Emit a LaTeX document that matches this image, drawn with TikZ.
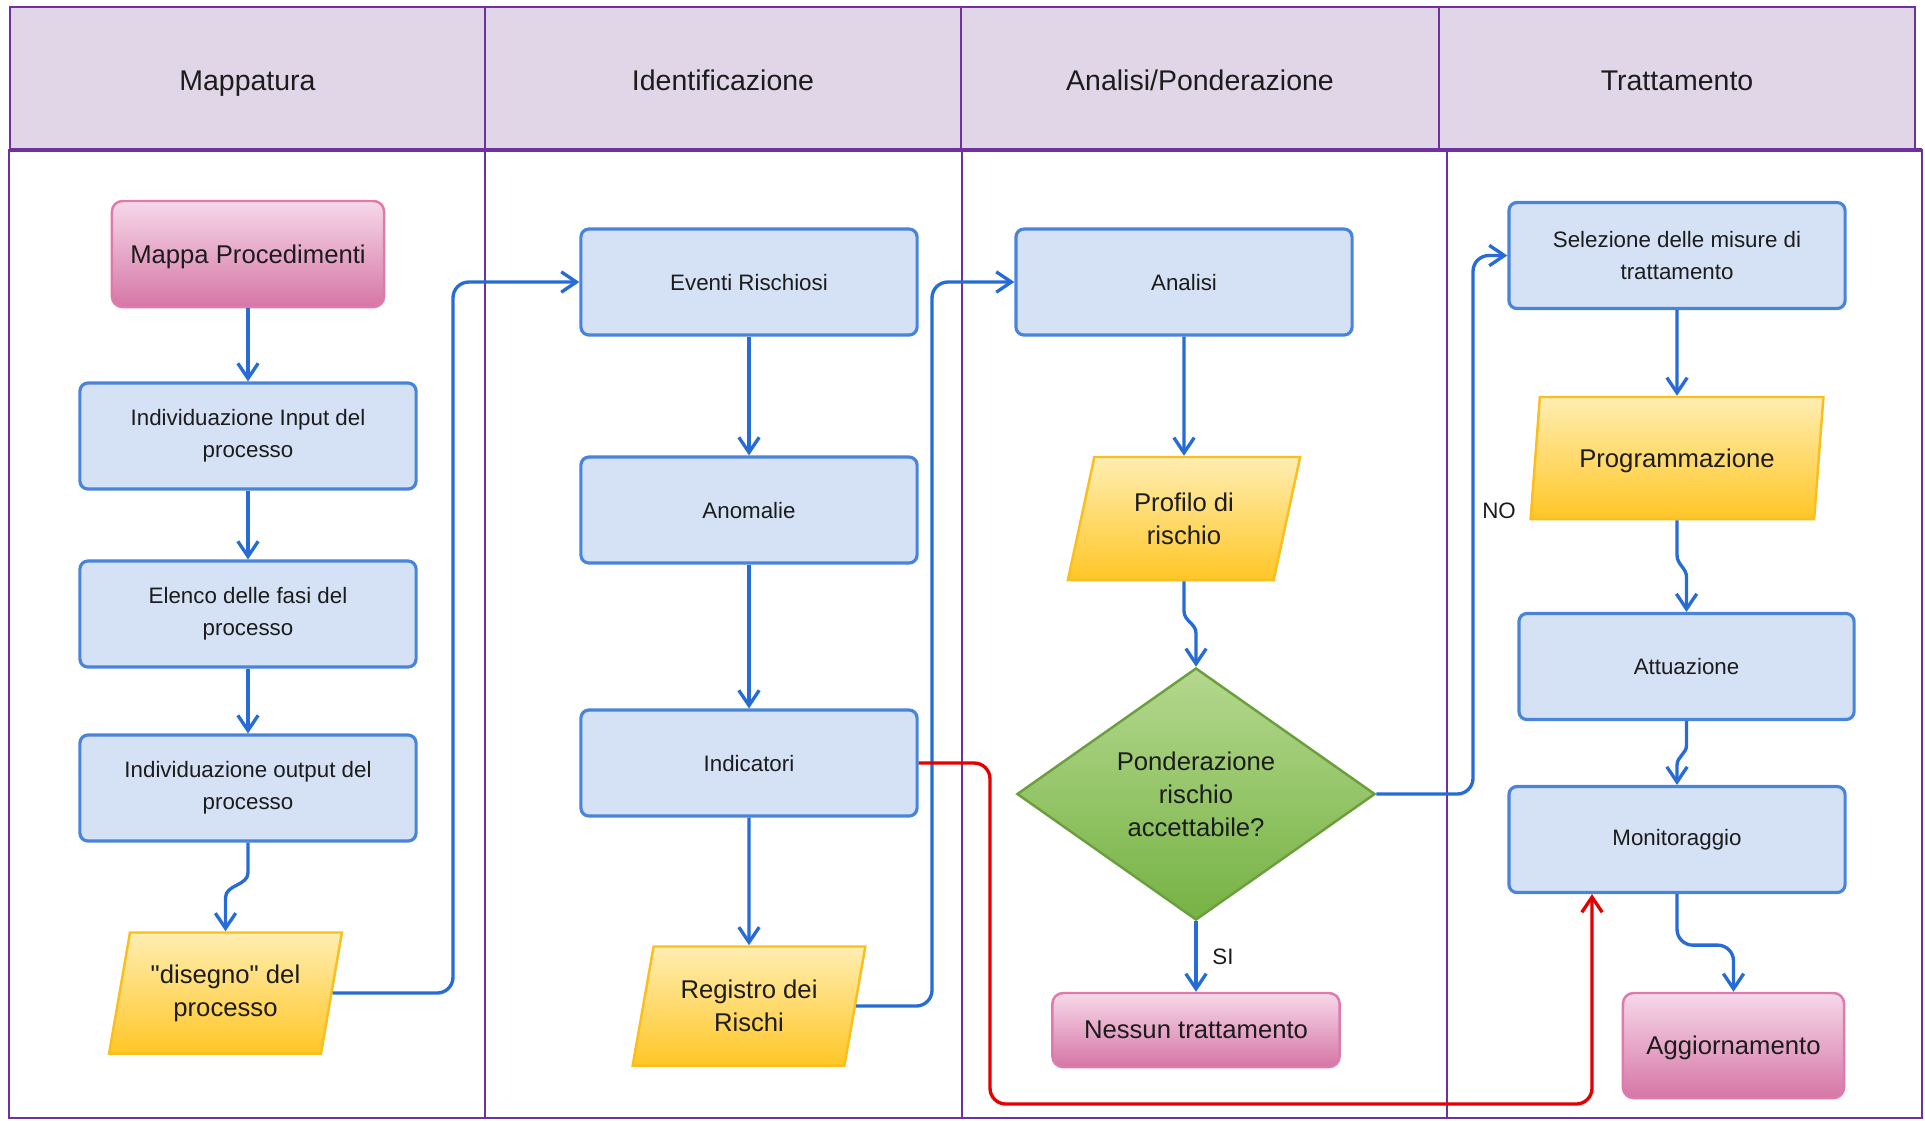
\documentclass[tikz,border=0pt]{standalone}
\usepackage{fontspec}
\setmainfont{Liberation Sans}[Ligatures=TeXOff]
\usepackage{tikz}
\usetikzlibrary{arrows.meta,shapes.geometric}
\definecolor{Lane}{RGB}{112,48,160}
\definecolor{LaneHead}{RGB}{225,213,232}
\definecolor{BoxFill}{RGB}{213,225,244}
\definecolor{BoxLine}{RGB}{72,132,218}
\definecolor{Flow}{RGB}{38,108,212}
\definecolor{PinkTop}{RGB}{246,216,233}
\definecolor{PinkBot}{RGB}{214,118,166}
\definecolor{PinkLine}{RGB}{222,122,172}
\definecolor{GoldTop}{RGB}{255,238,178}
\definecolor{GoldBot}{RGB}{255,198,38}
\definecolor{GoldLine}{RGB}{250,190,30}
\definecolor{LeafTop}{RGB}{180,216,142}
\definecolor{LeafBot}{RGB}{118,178,68}
\definecolor{LeafLine}{RGB}{108,158,62}
\definecolor{Alert}{RGB}{228,0,0}
\definecolor{Ink}{RGB}{28,28,28}
\newcommand{\headfont}{\fontsize{8.1pt}{9.7pt}\selectfont}
\newcommand{\boxfont}{\fontsize{6.35pt}{9pt}\selectfont}
\newcommand{\bigfont}{\fontsize{7.3pt}{9.4pt}\selectfont}
\tikzset{
  lanehead/.style={draw=Lane,fill=LaneHead,line width=0.6pt,minimum height=1.43cm,text height=6.6pt,text depth=0pt,font=\headfont,text=Ink},
  lane/.style={draw=Lane,line width=0.8pt},
  stepbox/.style={draw=BoxLine,fill=BoxFill,line width=0.9pt,rounded corners=2.3pt,minimum width=3.36cm,minimum height=1.06cm,align=center,font=\boxfont,text=Ink},
  endbox/.style={draw=PinkLine,top color=PinkTop,bottom color=PinkBot,line width=0.7pt,rounded corners=3pt,text depth=0pt,align=center,font=\bigfont,text=Ink},
  iobox/.style={trapezium,trapezium left angle=75,trapezium right angle=105,trapezium stretches=true,draw=GoldLine,top color=GoldTop,bottom color=GoldBot,line width=0.7pt,align=center,font=\bigfont,text=Ink,inner sep=1pt},
  decision/.style={diamond,aspect=1.42,inner sep=0pt,draw=LeafLine,top color=LeafTop,bottom color=LeafBot,line width=0.7pt,minimum width=3.58cm,minimum height=2.52cm,align=center,font=\bigfont,text=Ink},
  flow/.style={-{Straight Barb[length=4.3pt,width=5.8pt]},draw=Flow,line width=0.95pt},
  redflow/.style={-{Straight Barb[length=4.3pt,width=5.8pt]},draw=Alert,line width=0.95pt,rounded corners=4.5pt},
  answer/.style={font=\boxfont,text=Ink}
}

\begin{document}
\begin{tikzpicture}[x=0.01cm,y=-0.01cm]
\useasboundingbox (0,0) rectangle (1925,1120);
% lanes
\node[lanehead,minimum width=4.75cm] (hmap) at (247.5,78.5) {Mappatura};
\node[lanehead,minimum width=4.76cm] (hid) at (723,78.5) {Identificazione};
\node[lanehead,minimum width=4.78cm] (han) at (1200,78.5) {Analisi/Ponderazione};
\node[lanehead,minimum width=4.76cm] (htr) at (1677,78.5) {Trattamento};
\draw[lane] (9,150) rectangle (1922,1118);
\draw[lane] (485,150) -- (485,1118);
\draw[lane] (962,150) -- (962,1118);
\draw[lane] (1447,150) -- (1447,1118);
\draw[Lane,line width=1.2pt] (9,150) -- (1922,150);
% Mappatura
\node[endbox,minimum width=2.72cm,minimum height=1.06cm] (mappa) at (248,254) {Mappa Procedimenti};
\node[stepbox] (input) at (248,436) {Individuazione Input del\\processo};
\node[stepbox] (fasi) at (248,614) {Elenco delle fasi del\\processo};
\node[stepbox] (output) at (248,788) {Individuazione output del\\processo};
\node[iobox,minimum width=2.33cm,minimum height=1.21cm] (disegno) at (225.5,993) {"disegno" del\\processo};
% Identificazione
\node[stepbox] (eventi) at (749,282) {Eventi Rischiosi};
\node[stepbox] (anomalie) at (749,510) {Anomalie};
\node[stepbox] (indicatori) at (749,763) {Indicatori};
\node[iobox,minimum width=2.33cm,minimum height=1.19cm] (registro) at (749,1006) {Registro dei\\Rischi};
% Analisi/Ponderazione
\node[stepbox] (analisi) at (1184,282) {Analisi};
\node[iobox,minimum width=2.33cm,minimum height=1.23cm] (profilo) at (1184,518.5) {Profilo di\\rischio};
\node[decision] (ponderazione) at (1196,794) {Ponderazione\\rischio\\accettabile?};
\node[endbox,minimum width=2.87cm,minimum height=0.74cm] (nessuno) at (1196,1030) {Nessun trattamento};
% Trattamento
\node[stepbox] (selezione) at (1677,255.5) {Selezione delle misure di\\trattamento};
\node[iobox,minimum width=2.94cm,minimum height=1.22cm,text depth=0pt] (programma) at (1677,458) {Programmazione};
\node[stepbox,minimum width=3.35cm] (attuazione) at (1686.5,666.5) {Attuazione};
\node[stepbox] (monitoraggio) at (1677,839.5) {Monitoraggio};
\node[endbox,minimum width=2.21cm,minimum height=1.05cm] (aggiornamento) at (1733.5,1045.5) {Aggiornamento};
\node[answer] (si) at (1223,957) {SI};
\node[answer] (no) at (1499,511) {NO};
\coordinate (bend1) at (453,0);
\coordinate (bend2) at (932,0);
\coordinate (bend3) at (990,1104);
\coordinate (bend4) at (1592,1104);
\coordinate (bend5) at (1473,0);
% connectors
\draw[flow] (mappa) -- (input);
\draw[flow] (input) -- (fasi);
\draw[flow] (fasi) -- (output);
\draw[flow] (output.south) -- ++(0,30) to[out=-90,in=90] ++(-22.5,25) -- (disegno.north);
\draw[flow,rounded corners=4.5pt] (disegno.east) -| (bend1 |- eventi.west) -- (eventi.west);
\draw[flow] (eventi) -- (anomalie);
\draw[flow] (anomalie) -- (indicatori);
\draw[flow] (indicatori) -- (registro);
\draw[flow,rounded corners=4.5pt] (registro.east) -| (bend2 |- analisi.west) -- (analisi.west);
\draw[redflow] (indicatori.east) -| (bend3) -- (bend4) -- (bend4 |- monitoraggio.south);
\draw[flow] (analisi) -- (profilo);
\draw[flow] (profilo.south) -- ++(0,30) to[out=-90,in=90] ++(12,22) -- (ponderazione.north);
\draw[flow] (ponderazione) -- (nessuno);
\draw[flow,rounded corners=4.5pt] (ponderazione.east) -| (bend5 |- selezione.west) -- (selezione.west);
\draw[flow] (selezione) -- (programma);
\draw[flow] (programma.south) -- ++(0,35) to[out=-90,in=90] ++(9.5,22) -- (attuazione.north);
\draw[flow] (attuazione.south) -- ++(0,24) to[out=-90,in=90] ++(-9.5,20) -- (monitoraggio.north);
\draw[flow,rounded corners=4.5pt] (monitoraggio.south) -- ++(0,51) -| (aggiornamento.north);
\end{tikzpicture}
\end{document}
